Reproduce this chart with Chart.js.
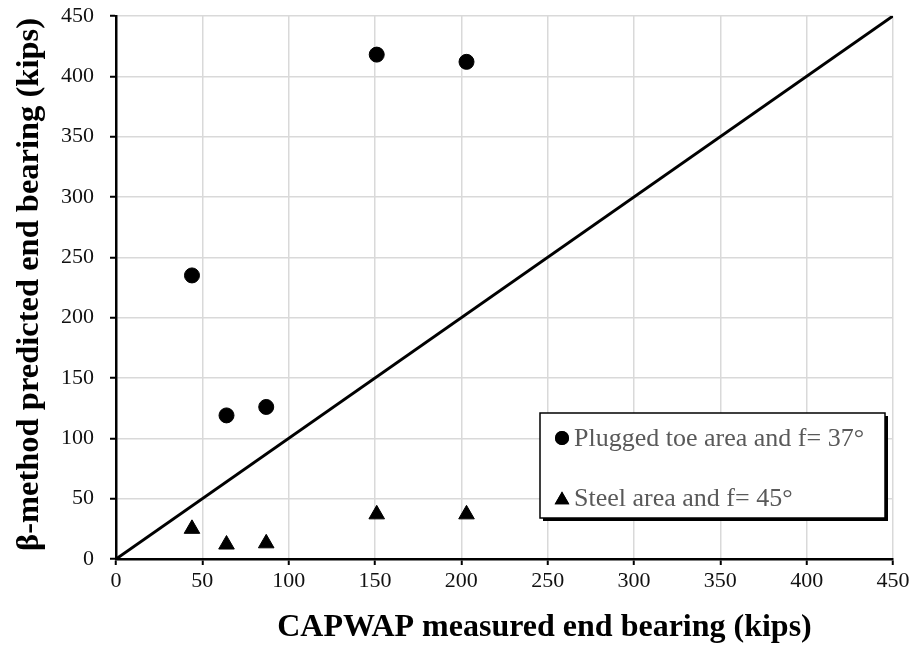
<!DOCTYPE html>
<html lang="en">
<head>
<meta charset="UTF-8">
<title>End bearing comparison</title>
<script src="https://cdn.jsdelivr.net/npm/chart.js@4.4.0/dist/chart.umd.min.js"></script>
<style>
  html, body { margin: 0; padding: 0; background: #fff; }
  #wrap { width: 915px; height: 652px; }
</style>
</head>
<body>
<div id="wrap"><canvas id="chart"></canvas></div>
<script>
// measured (CAPWAP) vs predicted end bearing, kips
var capwap = [44, 64, 87, 151, 203];
var plugged = [235, 119, 126, 418, 412];
var steel = [25, 12, 13, 37, 37];
var axisTicks = [0, 50, 100, 150, 200, 250, 300, 350, 400, 450];
var seriesNames = ['Plugged toe area and f= 37°', 'Steel area and f= 45°'];
var xTitle = 'CAPWAP measured end bearing (kips)';
var yTitle = 'β-method predicted end bearing (kips)';

function pairs(xs, ys) {
  return xs.map(function (x, i) { return { x: x, y: ys[i] }; });
}

var serif = '"Liberation Serif", "Times New Roman", serif';

// axis titles, drawn by hand so they can sit a little off-centre
var axisTitles = {
  id: 'axisTitles',
  afterDraw: function (chart) {
    var ctx = chart.ctx;
    var a = chart.chartArea;
    ctx.save();
    ctx.fillStyle = '#000';
    ctx.textAlign = 'center';
    ctx.textBaseline = 'middle';
    ctx.font = 'bold 32px ' + serif;
    ctx.fillText(xTitle, (a.left + a.right) / 2 + 40, chart.height - 24);
    ctx.translate(30, (a.top + a.bottom) / 2 - 3);
    ctx.rotate(-Math.PI / 2);
    ctx.font = 'bold 32.5px ' + serif;
    ctx.fillText(yTitle, 0, 0);
    ctx.restore();
  }
};

// legend box inside the plot area, lower right
var boxLegend = {
  id: 'boxLegend',
  afterDraw: function (chart) {
    var ctx = chart.ctx;
    var a = chart.chartArea;
    var w = 345, h = 105;
    var x0 = a.right - 353, y0 = a.bottom - 146;
    ctx.save();
    ctx.fillStyle = '#000';
    ctx.fillRect(x0 + 3, y0 + 3, w, h);
    ctx.fillStyle = '#fff';
    ctx.fillRect(x0, y0, w, h);
    ctx.strokeStyle = '#000';
    ctx.lineWidth = 1.5;
    ctx.strokeRect(x0, y0, w, h);
    ctx.font = '26px ' + serif;
    ctx.textBaseline = 'middle';
    var rows = [y0 + 25, y0 + 85];
    [0, 1].forEach(function (i) {
      var ds = chart.data.datasets[i];
      ctx.fillStyle = '#000';
      ctx.strokeStyle = '#000';
      Chart.helpers.drawPoint(ctx, {
        pointStyle: ds.pointStyle, radius: ds.pointRadius - 0.5, borderWidth: 0
      }, x0 + 22, rows[i] + (i === 1 ? 2 : 0));
      ctx.fill();
      ctx.fillStyle = '#595959';
      ctx.fillText(ds.label, x0 + 34, rows[i] + 1);
    });
    ctx.restore();
  }
};

var tickList = function (s) { s.ticks = axisTicks.map(function (v) { return { value: v }; }); };

new Chart(document.getElementById('chart'), {
  type: 'scatter',
  data: {
    datasets: [{
      label: seriesNames[0],
      data: pairs(capwap, plugged),
      pointStyle: 'circle',
      pointRadius: 7.5,
      backgroundColor: '#000',
      borderColor: '#000'
    }, {
      label: seriesNames[1],
      data: pairs(capwap, steel),
      pointStyle: 'triangle',
      pointRadius: 9,
      backgroundColor: '#000',
      borderColor: '#000'
    }, {
      type: 'line',
      label: '1:1',
      data: [{ x: axisTicks[0], y: axisTicks[0] }, { x: axisTicks[axisTicks.length - 1], y: axisTicks[axisTicks.length - 1] }],
      borderColor: '#000',
      borderWidth: 3,
      pointRadius: 0,
      fill: false,
      order: 5
    }]
  },
  options: {
    responsive: true,
    maintainAspectRatio: false,
    animation: false,
    layout: { padding: { top: 16, right: 22, left: 0, bottom: 0 } },
    plugins: { legend: { display: false }, tooltip: { enabled: false } },
    scales: {
      x: {
        type: 'linear',
        min: 0, max: 450,
        afterBuildTicks: tickList,
        afterFit: function (s) { s.height = 93; s.paddingLeft = 0; s.paddingRight = 0; },
        grid: { color: '#d9d9d9', lineWidth: 1.5, tickLength: 6, tickColor: '#000', tickWidth: 2 },
        border: { color: '#000', width: 2.5 },
        ticks: { color: '#111', font: { family: serif, size: 22 }, padding: 3 }
      },
      y: {
        type: 'linear',
        min: 0, max: 450,
        afterBuildTicks: tickList,
        afterFit: function (s) { s.width = 116; s.paddingTop = 0; s.paddingBottom = 0; },
        grid: { color: '#d9d9d9', lineWidth: 1.5, tickLength: 6, tickColor: '#000', tickWidth: 2 },
        border: { color: '#000', width: 2.5 },
        ticks: { color: '#111', font: { family: serif, size: 22 }, padding: 16 }
      }
    }
  },
  plugins: [axisTitles, boxLegend]
});
</script>
</body>
</html>
